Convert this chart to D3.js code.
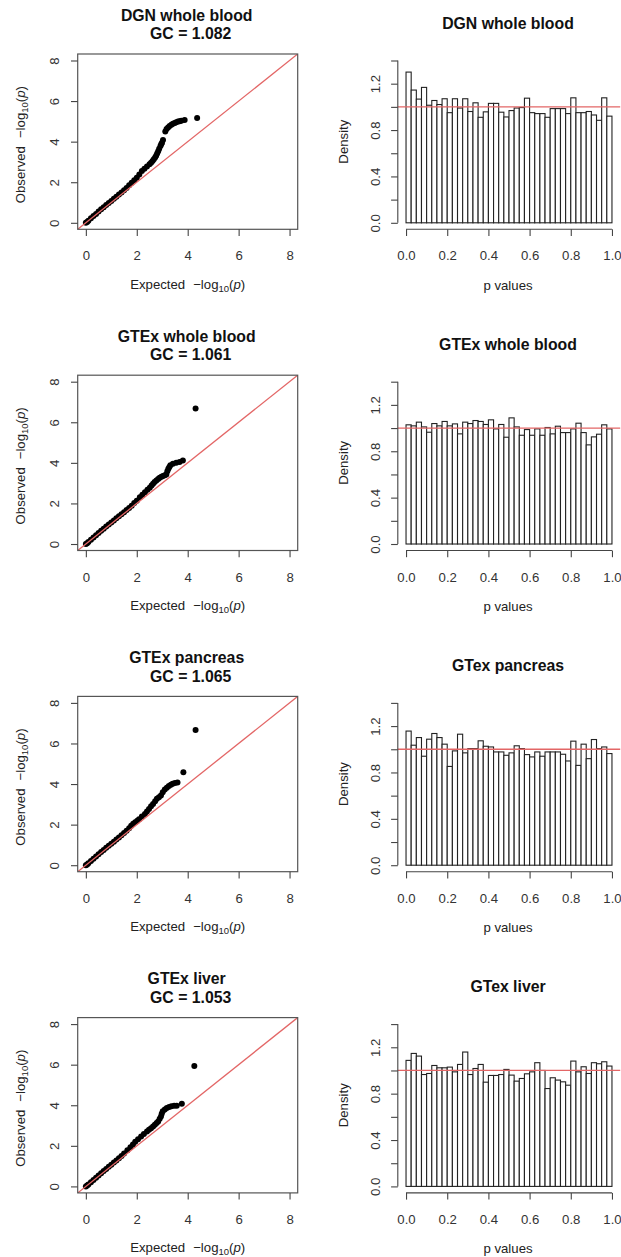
<!DOCTYPE html>
<html><head><meta charset="utf-8">
<script src="https://cdn.jsdelivr.net/npm/d3@7"></script>
<style>
body{margin:0;background:#fff}
text{font-family:"Liberation Sans",Arial,Helvetica,sans-serif}
</style>
</head><body>
<svg id="chart" width="621" height="1257"></svg>
<script>
// ---------- data ----------
const qqTitles = ["DGN whole blood", "GTEx whole blood", "GTEx pancreas", "GTEx liver"];
const gcValues = ["1.082", "1.061", "1.065", "1.053"];
const histTitles = ["DGN whole blood", "GTEx whole blood", "GTex pancreas", "GTex liver"];

// QQ points: [expected -log10(p), observed -log10(p)]
const qqDGN = [[0,0],[0.05,0.04],[0.1,0.1],[0.2,0.22],[0.3,0.33],[0.4,0.44],[0.5,0.56],[0.6,0.67],[0.7,0.77],[0.8,0.88],[0.9,0.98],[1.0,1.08],[1.1,1.18],[1.2,1.29],[1.3,1.39],[1.4,1.49],[1.5,1.6],[1.6,1.72],[1.7,1.85],[1.8,1.98],[1.9,2.1],[2.0,2.22],[2.1,2.38],[2.2,2.55],[2.3,2.67],[2.4,2.78],[2.5,2.88],[2.56,2.96],[2.62,3.05],[2.67,3.13],[2.72,3.22],[2.76,3.3],[2.8,3.42],[2.84,3.53],[2.88,3.65],[2.93,3.78],[2.96,3.87],[2.99,3.95],[3.03,4.08],[3.12,4.5],[3.17,4.62],[3.23,4.7],[3.29,4.77],[3.36,4.83],[3.42,4.88],[3.49,4.92],[3.55,4.96],[3.62,4.99],[3.68,5.01],[3.75,5.03],[3.88,5.07],[4.37,5.16]];
const qqGTExBlood = [[0,0],[0.05,0.04],[0.1,0.1],[0.2,0.21],[0.3,0.32],[0.4,0.43],[0.5,0.54],[0.6,0.65],[0.7,0.75],[0.8,0.86],[0.9,0.96],[1.0,1.06],[1.1,1.16],[1.2,1.27],[1.3,1.37],[1.4,1.47],[1.5,1.57],[1.6,1.67],[1.7,1.78],[1.8,1.89],[1.9,2.02],[2.0,2.13],[2.12,2.31],[2.22,2.43],[2.32,2.55],[2.42,2.67],[2.51,2.77],[2.58,2.88],[2.64,2.97],[2.7,3.05],[2.77,3.13],[2.84,3.21],[2.9,3.27],[2.97,3.32],[3.03,3.35],[3.1,3.39],[3.16,3.43],[3.2,3.58],[3.24,3.71],[3.28,3.8],[3.32,3.88],[3.42,3.96],[3.55,4.01],[3.68,4.04],[3.81,4.12],[4.31,6.68]];
const qqGTExPancreas = [[0,0],[0.05,0.04],[0.1,0.1],[0.2,0.21],[0.3,0.32],[0.4,0.43],[0.5,0.54],[0.6,0.65],[0.7,0.75],[0.8,0.86],[0.9,0.96],[1.0,1.06],[1.1,1.16],[1.2,1.27],[1.3,1.37],[1.4,1.48],[1.5,1.59],[1.6,1.7],[1.7,1.82],[1.78,1.94],[1.86,2.04],[1.94,2.12],[2.02,2.19],[2.09,2.27],[2.2,2.4],[2.32,2.52],[2.4,2.65],[2.48,2.77],[2.56,2.9],[2.64,3.02],[2.72,3.15],[2.79,3.27],[2.87,3.35],[2.95,3.43],[3.02,3.6],[3.1,3.73],[3.18,3.82],[3.26,3.9],[3.34,3.97],[3.41,4.02],[3.5,4.05],[3.6,4.08],[3.83,4.58],[4.31,6.67]];
const qqGTExLiver = [[0,0],[0.05,0.04],[0.1,0.1],[0.2,0.21],[0.3,0.32],[0.4,0.43],[0.5,0.54],[0.6,0.65],[0.7,0.76],[0.8,0.86],[0.9,0.97],[1.0,1.07],[1.1,1.18],[1.2,1.28],[1.3,1.39],[1.4,1.5],[1.5,1.62],[1.63,1.78],[1.75,1.93],[1.85,2.07],[1.94,2.2],[2.05,2.33],[2.17,2.46],[2.28,2.58],[2.4,2.71],[2.48,2.79],[2.56,2.87],[2.64,2.95],[2.71,3.04],[2.78,3.12],[2.84,3.2],[2.9,3.33],[2.95,3.45],[2.98,3.58],[3.02,3.7],[3.1,3.79],[3.18,3.86],[3.27,3.91],[3.36,3.95],[3.47,3.97],[3.57,3.98],[3.77,4.08],[4.26,5.93]];

// Histogram densities, 40 bins of width 0.025 on [0,1]
const densDGN = [1.30,1.145,1.067,1.168,1.014,1.055,1.02,1.07,0.95,1.07,0.99,1.07,0.96,1.035,0.91,0.957,1.03,1.03,0.954,0.913,0.968,0.99,0.994,1.075,0.95,0.942,0.942,0.91,0.985,0.985,0.985,0.942,1.078,0.95,0.95,0.96,0.93,0.884,1.078,0.92];
const densGTExBlood = [1.028,1.019,1.051,1.010,0.964,1.039,1.019,1.057,1.019,1.036,0.950,1.051,1.039,1.065,1.057,1.031,1.071,0.993,1.031,0.921,1.088,1.010,0.938,0.987,0.938,0.993,0.938,1.005,0.950,1.016,0.961,0.961,0.993,1.042,0.961,0.855,0.924,0.947,1.028,0.993];
const densGTExPancreas = [1.157,1.035,1.101,0.94,1.087,1.136,1.101,1.044,0.852,0.986,1.13,0.969,1.006,1.006,1.073,1.026,1.02,0.977,0.977,0.948,0.969,1.03,1.006,0.954,0.934,0.977,0.94,0.977,0.977,0.977,0.957,0.899,1.07,0.861,1.044,0.919,1.084,1.006,1.02,0.963];
const densGTExLiver = [1.087,1.147,1.124,0.965,0.974,1.043,1.023,1.023,1.029,0.988,1.052,1.159,0.965,1.017,1.052,0.899,0.957,0.957,0.965,1.009,0.96,0.908,0.931,0.971,0.988,1.067,1.0,0.844,0.937,0.917,0.902,0.873,1.081,0.988,1.032,0.974,1.067,1.058,1.075,1.038];

const qqSeries = [qqDGN, qqGTExBlood, qqGTExPancreas, qqGTExLiver];
const histSeries = [densDGN, densGTExBlood, densGTExPancreas, densGTExLiver];

const qqTicks = [0, 2, 4, 6, 8];
const histXTicks = [0, 0.2, 0.4, 0.6, 0.8, 1.0];
const histXLabels = ["0.0", "0.2", "0.4", "0.6", "0.8", "1.0"];
const histYTicks = [0, 0.2, 0.4, 0.6, 0.8, 1.0, 1.2, 1.4];
const histYLabels = ["0.0", "", "0.4", "", "0.8", "", "1.2", ""];
const binWidth = 0.025;

// ---------- layout ----------
const ROW_STEP = 321.2;
const TOP = 54, BOTTOM = 229.3;
const RED = "#e36666";
const TICK_COL = "#333";
const FS = 13.2;
const TFS = 15.8;
const TICK = 6.7;

const svg = d3.select("#chart");
svg.append("rect").attr("width", 621).attr("height", 1257).attr("fill", "#fff");

function logTitle(g, x, y, prefix, rotate) {
  const t = g.append("text")
    .attr("text-anchor", "middle")
    .attr("font-size", FS)
    .attr("fill", "#222")
    .attr("transform", `translate(${x},${y})` + (rotate ? " rotate(-90)" : ""));
  t.append("tspan").text(prefix);
  t.append("tspan").attr("dx", 8).text("\u2212log");
  t.append("tspan").attr("font-size", 9.5).attr("dy", 3).text("10");
  t.append("tspan").attr("dy", -3).text("(");
  t.append("tspan").attr("font-style", "italic").text("p");
  t.append("tspan").text(")");
}

function styleAxis(a) {
  a.selectAll("line").attr("stroke", "#444").attr("stroke-width", 1.1);
  a.selectAll("text").attr("font-size", FS).attr("fill", TICK_COL)
    .attr("font-family", '"Liberation Sans",Arial,sans-serif');
}

function qqPanel(row, i) {
  const g = svg.append("g").attr("transform", `translate(0,${row})`);
  const x = d3.scaleLinear().domain([-0.32, 8.32]).range([77.7, 297.7]);
  const y = d3.scaleLinear().domain([-0.32, 8.32]).range([BOTTOM, TOP]);
  const cx = (77.7 + 297.7) / 2;

  // title
  const tt = g.append("text").attr("text-anchor", "middle").attr("font-weight", "bold")
    .attr("font-size", TFS).attr("fill", "#111");
  tt.append("tspan").attr("x", cx - 1).attr("y", 20.6).text(qqTitles[i]);
  tt.append("tspan").attr("x", cx + 3).attr("y", 39.2).text("GC = " + gcValues[i]);

  const clipId = "clip" + i;
  g.append("clipPath").attr("id", clipId).append("rect")
    .attr("x", x.range()[0]).attr("y", TOP).attr("width", 220).attr("height", BOTTOM - TOP);

  // points
  g.append("g").selectAll("circle").data(qqSeries[i]).join("circle")
    .attr("cx", d => x(d[0])).attr("cy", d => y(d[1])).attr("r", 3.0)
    .attr("fill", "#000");

  // y = x line
  g.append("line").attr("clip-path", `url(#${clipId})`)
    .attr("x1", x(-0.32)).attr("y1", y(-0.32)).attr("x2", x(8.32)).attr("y2", y(8.32))
    .attr("stroke", RED).attr("stroke-width", 1.3);

  // box
  g.append("rect").attr("x", 77.7).attr("y", TOP).attr("width", 220).attr("height", BOTTOM - TOP)
    .attr("fill", "none").attr("stroke", "#555").attr("stroke-width", 1.2);

  // x axis
  const ax = g.append("g").attr("transform", `translate(0,${BOTTOM})`)
    .call(d3.axisBottom(x).tickValues(qqTicks).tickSize(TICK).tickSizeOuter(0).tickPadding(15));
  ax.select(".domain").remove();
  styleAxis(ax);

  // y axis
  const ay = g.append("g").attr("transform", `translate(77.7,0)`)
    .call(d3.axisLeft(y).tickValues(qqTicks).tickSize(TICK).tickSizeOuter(0));
  ay.select(".domain").remove();
  styleAxis(ay);
  ay.selectAll(".tick text").attr("transform", "rotate(-90)").attr("x", 0).attr("y", -18.6)
    .attr("dy", 0).attr("text-anchor", "middle");

  logTitle(g, cx, 288.5, "Expected", false);
  logTitle(g, 25, (TOP + BOTTOM) / 2 + 3, "Observed", true);
}

function histPanel(row, i) {
  const g = svg.append("g").attr("transform", `translate(0,${row})`);
  const x = d3.scaleLinear().domain([-0.04, 1.04]).range([397.8, 620.2]);
  const y = d3.scaleLinear().domain([-0.056, 1.456]).range([BOTTOM, TOP]);
  const cx = (397.8 + 620.2) / 2;

  g.append("text").attr("x", cx - 1).attr("y", 28.9).attr("text-anchor", "middle")
    .attr("font-weight", "bold").attr("font-size", TFS).attr("fill", "#111").text(histTitles[i]);

  const dens = histSeries[i];
  g.append("g").selectAll("rect").data(dens).join("rect")
    .attr("x", (d, k) => x(k * binWidth))
    .attr("width", (d, k) => x((k + 1) * binWidth) - x(k * binWidth))
    .attr("y", d => y(d))
    .attr("height", d => y(0) - y(d))
    .attr("fill", "#fff").attr("stroke", "#222").attr("stroke-width", 1.1);

  g.append("line").attr("x1", x.range()[0]).attr("x2", x.range()[1])
    .attr("y1", y(1)).attr("y2", y(1)).attr("stroke", RED).attr("stroke-width", 1.3);

  // x axis
  const ax = g.append("g").attr("transform", `translate(0,${BOTTOM})`)
    .call(d3.axisBottom(x).tickValues(histXTicks).tickFormat((d, k) => histXLabels[k])
      .tickSize(TICK).tickSizeOuter(0).tickPadding(15));
  ax.select(".domain").remove();
  ax.append("line").attr("x1", x(0)).attr("x2", x(1)).attr("y1", 0).attr("y2", 0);
  styleAxis(ax);

  // y axis
  const ay = g.append("g").attr("transform", `translate(397.8,0)`)
    .call(d3.axisLeft(y).tickValues(histYTicks).tickFormat((d, k) => histYLabels[k])
      .tickSize(TICK).tickSizeOuter(0));
  ay.select(".domain").remove();
  ay.append("line").attr("x1", 0).attr("x2", 0).attr("y1", y(0)).attr("y2", y(1.4));
  styleAxis(ay);
  ay.selectAll(".tick text").attr("transform", "rotate(-90)").attr("x", 0).attr("y", -18.2)
    .attr("dy", 0).attr("text-anchor", "middle");

  g.append("text").attr("x", cx - 1).attr("y", 289.5).attr("text-anchor", "middle")
    .attr("font-size", FS).attr("fill", "#222").text("p values");
  g.append("text").attr("transform", `translate(348.3,${(TOP + BOTTOM) / 2}) rotate(-90)`)
    .attr("text-anchor", "middle").attr("font-size", FS).attr("fill", "#222").text("Density");
}

for (let i = 0; i < 4; i++) {
  const row = i * ROW_STEP;
  qqPanel(row, i);
  histPanel(row, i);
}
</script>
</body></html>
